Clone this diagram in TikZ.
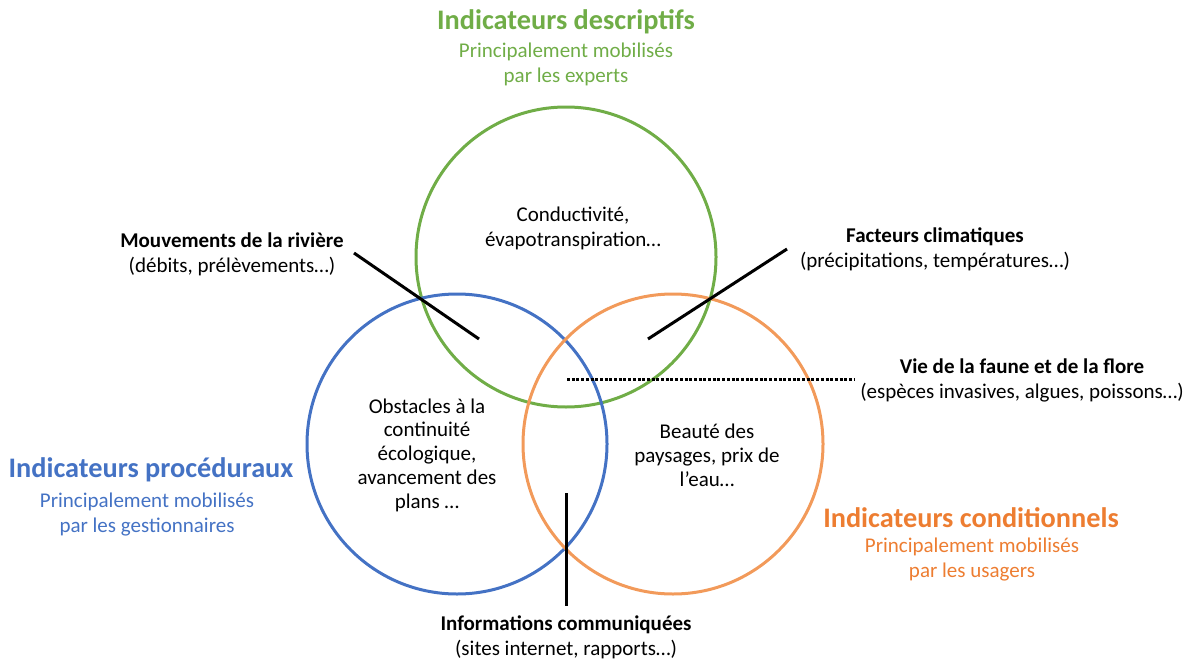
\documentclass[tikz,border=0pt]{standalone}
\usepackage{fontspec}
\setmainfont{Carlito}
\usetikzlibrary{positioning}
\tikzset{ring/.style = {line width = 3}}
\tikzset{bar/.style = {line width = 3}}
\tikzset{dots/.style = {line width = 3, dash pattern = on 3pt off 1.7pt}}
\tikzset{ttl/.style = {inner sep = 0, font = \fontsize{28.3}{30}\selectfont\bfseries}}
\tikzset{txt/.style = {inner sep = 0, align = center, font = \fontsize{21}{25}\selectfont}}
\tikzset{inner/.style = {inner sep = 0, align = center, font = \fontsize{21}{23.8}\selectfont}}
\definecolor{mgreen}{HTML}{70AD47}
\definecolor{mblue}{HTML}{4472C4}
\definecolor{morange}{HTML}{ED7D31}
\definecolor{lorange}{HTML}{F29A5A}

\begin{document}
\begin{tikzpicture}[x = 1pt, y = -1pt]
      \useasboundingbox (0, 0) rectangle (1198, 661);

      \draw [ring, mgreen] (566, 257) circle [radius = 150];
      \draw [ring, mblue] (457, 444) circle [radius = 150];
      \draw [ring, lorange] (673, 444) circle [radius = 150];

      \node [ttl, mgreen] (desc) at (566, 22) {Indicateurs descriptifs};
      \node [txt, mgreen] (descsub) at (566, 64.5) {Principalement mobilisés\\par les experts};

      \node [ttl, mblue] (proc) at (151, 470) {Indicateurs procéduraux};
      \node [txt, mblue] (procsub) at (147, 514.5) {Principalement mobilisés\\par les gestionnaires};

      \node [ttl, morange] (cond) at (971, 518) {Indicateurs conditionnels};
      \node [txt, morange] (condsub) at (972, 559.5) {Principalement mobilisés\\par les usagers};

      \node [txt] (condu) at (573, 228) {Conductivité,\\évapotranspiration…};
      \node [inner] (obst) at (427, 455) {Obstacles à la\\continuité\\écologique,\\avancement des\\plans …};
      \node [inner] (beaute) at (707, 455) {Beauté des\\paysages, prix de\\l’eau…};

      \node [txt] (mouv) at (232, 254.5) {\textbf{Mouvements de la rivière}\\(débits, prélèvements…)};
      \node [txt] (fact) at (935, 249) {\textbf{Facteurs climatiques}\\(précipitations, températures…)};
      \node [txt] (vie) at (1022, 380) {\textbf{Vie de la faune et de la flore}\\(espèces invasives, algues, poissons…)};
      \node [txt] (info) at (566, 637.5) {\textbf{Informations communiquées}\\(sites internet, rapports…)};

      \coordinate (m1) at (354, 253);
      \coordinate (m2) at (479, 339);
      \coordinate (f1) at (787, 249);
      \coordinate (f2) at (648, 339);
      \coordinate (v1) at (567, 379);
      \coordinate (v2) at (855, 379);
      \coordinate (i1) at (566, 493);
      \coordinate (i2) at (566, 606);

      \draw [bar] (m1) -- (m2);
      \draw [bar] (f1) -- (f2);
      \draw [dots] (v1) -- (v2);
      \draw [bar] (i1) -- (i2);
    \end{tikzpicture}
\end{document}
